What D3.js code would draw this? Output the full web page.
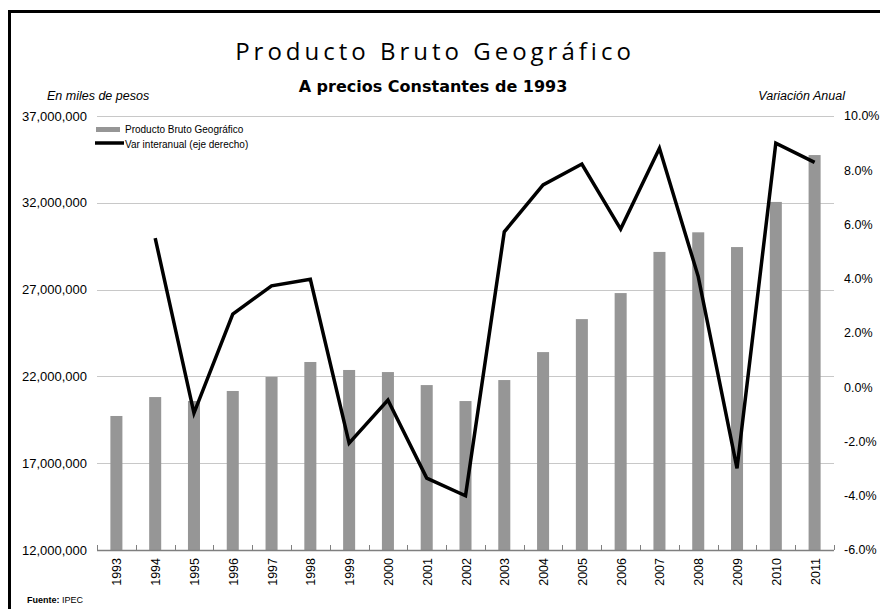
<!DOCTYPE html>
<html>
<head>
<meta charset="utf-8">
<script src="https://cdn.jsdelivr.net/npm/d3@7"></script>
<style>
  body { margin: 0; background: #fff; }
  text { font-family: "Liberation Sans", Arial, sans-serif; fill: #000; }
</style>
</head>
<body>
<div id="chart"></div>
<script>
// years on the x axis
const years = ['1993','1994','1995','1996','1997','1998','1999','2000','2001','2002',
               '2003','2004','2005','2006','2007','2008','2009','2010','2011'];
// PBG in miles de pesos
const pbg = [19720000, 20810000, 20580000, 21160000, 21970000, 22830000, 22370000, 22250000,
             21500000, 20580000, 21790000, 23400000, 25300000, 26800000, 29170000, 30300000,
             29450000, 32050000, 34750000];
// var interanual %, starts in 1994
const varYears = years.slice(1);
const varInter = [5.5, -0.95, 2.7, 3.74, 3.98, -2.06, -0.47, -3.35, -4.0, 5.73, 7.46, 8.23,
                  5.83, 8.81, 4.08, -2.99, 9.0, 8.29];
const leftTicks = [12000000, 17000000, 22000000, 27000000, 32000000, 37000000];
const rightTicks = [-6, -4, -2, 0, 2, 4, 6, 8, 10];

const width = 880, height = 609;
const plot = {left: 97, right: 834, top: 116, bottom: 550};

const svg = d3.select('#chart').append('svg')
    .attr('width', width)
    .attr('height', height);

// outer frame
svg.append('rect')
    .attr('x', 9.5).attr('y', 11.5)
    .attr('width', 880).attr('height', 620)
    .attr('fill', 'none').attr('stroke', '#000').attr('stroke-width', 3);

const x = d3.scaleBand()
    .domain(years)
    .range([plot.left, plot.right])
    .paddingInner(0.69)
    .paddingOuter(0.345);

const yL = d3.scaleLinear().domain([12000000, 37000000]).range([plot.bottom, plot.top]);
const yR = d3.scaleLinear().domain([-6, 10]).range([plot.bottom, plot.top]);

// gridlines
svg.append('g').selectAll('line')
    .data(leftTicks.slice(1))
    .join('line')
    .attr('x1', plot.left).attr('x2', plot.right)
    .attr('y1', d => Math.round(yL(d)) + 0.5).attr('y2', d => Math.round(yL(d)) + 0.5)
    .attr('stroke', '#c8c8c8').attr('stroke-width', 1);

// left axis labels
const fmt = d3.format(',');
svg.append('g').selectAll('text')
    .data(leftTicks)
    .join('text')
    .attr('x', 87).attr('y', d => yL(d))
    .attr('dy', '0.35em')
    .attr('text-anchor', 'end')
    .style('font-size', '13px')
    .text(d => fmt(d));

// right axis labels
svg.append('g').selectAll('text')
    .data(rightTicks)
    .join('text')
    .attr('x', 844).attr('y', d => yR(d))
    .attr('dy', '0.35em')
    .style('font-size', '12.5px')
    .text(d => d.toFixed(1) + '%');

// bars
svg.append('g').selectAll('rect')
    .data(years)
    .join('rect')
    .attr('x', d => x(d))
    .attr('y', (d, i) => yL(pbg[i]))
    .attr('width', x.bandwidth())
    .attr('height', (d, i) => plot.bottom - yL(pbg[i]))
    .attr('fill', '#969696');

// x axis line with inner ticks at band edges
const axisG = svg.append('g');
axisG.append('line')
    .attr('x1', plot.left).attr('x2', plot.right)
    .attr('y1', plot.bottom + 0.5).attr('y2', plot.bottom + 0.5)
    .attr('stroke', '#7f7f7f').attr('stroke-width', 1.5);
const edges = years.map(d => x(d) - x.step() * x.paddingInner() / 2);
edges[0] = plot.left;
edges.push(plot.right);
axisG.selectAll('line.tk')
    .data(edges)
    .join('line')
    .attr('class', 'tk')
    .attr('x1', d => Math.round(d) + 0.5).attr('x2', d => Math.round(d) + 0.5)
    .attr('y1', plot.bottom - 5).attr('y2', plot.bottom)
    .attr('stroke', '#7f7f7f').attr('stroke-width', 1);

// x labels, rotated
svg.append('g').selectAll('text')
    .data(years)
    .join('text')
    .attr('transform', d => `translate(${x(d) + x.bandwidth() / 2 + 5},${plot.bottom + 8}) rotate(-90)`)
    .attr('text-anchor', 'end')
    .style('font-size', '12.5px')
    .text(d => d);

// line (right axis)
const line = d3.line()
    .x((d, i) => x(varYears[i]) + x.bandwidth() / 2)
    .y(d => yR(d));
svg.append('path')
    .datum(varInter)
    .attr('d', line)
    .attr('fill', 'none')
    .attr('stroke', '#000')
    .attr('stroke-width', 3.5)
    .attr('stroke-linejoin', 'miter');

// titles
svg.append('text')
    .attr('x', 435).attr('y', 60)
    .attr('text-anchor', 'middle')
    .style('font-family', '"Open Sans", sans-serif')
    .style('font-size', '24px')
    .style('letter-spacing', '4px')
    .text('Producto Bruto Geográfico');
svg.append('text')
    .attr('x', 433).attr('y', 92)
    .attr('text-anchor', 'middle')
    .style('font-family', '"DejaVu Sans", sans-serif')
    .style('font-size', '16px')
    .style('font-weight', 'bold')
    .text('A precios Constantes de 1993');
svg.append('text')
    .attr('x', 47).attr('y', 100)
    .style('font-size', '12.5px')
    .style('font-style', 'italic')
    .text('En miles de pesos');
svg.append('text')
    .attr('x', 845).attr('y', 100)
    .attr('text-anchor', 'end')
    .style('font-size', '12.5px')
    .style('font-style', 'italic')
    .text('Variación Anual');

// legend
const legend = svg.append('g');
legend.append('rect')
    .attr('x', 96).attr('y', 127).attr('width', 24).attr('height', 5)
    .attr('fill', '#969696');
legend.append('text')
    .attr('x', 125).attr('y', 133)
    .style('font-size', '10px')
    .text('Producto Bruto Geográfico');
legend.append('line')
    .attr('x1', 95).attr('x2', 124).attr('y1', 143).attr('y2', 143)
    .attr('stroke', '#000').attr('stroke-width', 3.5);
legend.append('text')
    .attr('x', 125).attr('y', 148)
    .style('font-size', '10px')
    .text('Var interanual (eje derecho)');

// source
const src = svg.append('text')
    .attr('x', 27).attr('y', 603)
    .style('font-size', '9px');
src.append('tspan').style('font-weight', 'bold').text('Fuente:');
src.append('tspan').text(' IPEC');
</script>
</body>
</html>
